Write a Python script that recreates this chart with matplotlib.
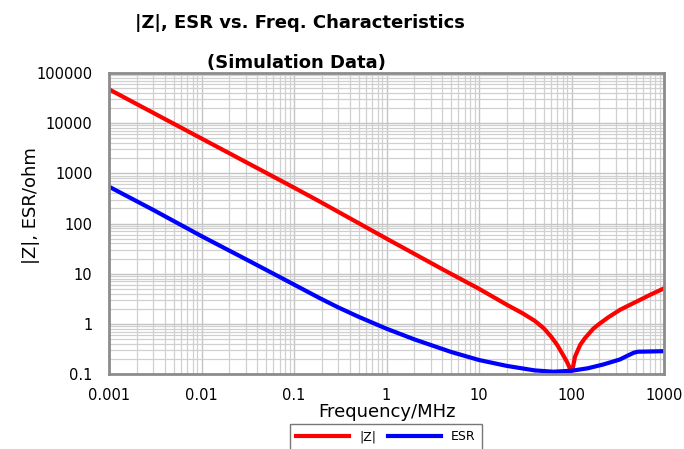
import numpy as np
import matplotlib.pyplot as plt
from matplotlib.ticker import FixedLocator, LogLocator, NullFormatter

# |Z| (MHz, ohm)
freq_z = [0.001, 0.01, 0.1, 0.191, 1, 4.11, 10, 20, 30, 40, 50, 60,
          70, 80, 90, 96, 100, 104, 109, 124, 140, 172, 200, 250, 334,
          430, 550, 700, 1000]
z_vals = [47300, 4950, 519, 272, 50, 12.0, 5.0, 2.4, 1.6, 1.15, 0.82, 0.56,
          0.38, 0.25, 0.17, 0.13, 0.115, 0.14, 0.22, 0.38, 0.52, 0.80, 1.0,
          1.35, 1.9, 2.4, 3.0, 3.75, 5.1]

# ESR
freq_esr = [0.001, 0.003, 0.01, 0.03, 0.0707, 0.191, 0.3, 0.5, 1, 2, 5, 10,
            20, 40, 63.5, 100, 150, 221, 334, 400, 470, 520, 1000]
esr_vals = [542, 187, 56, 19.5, 8.5, 3.23, 2.13, 1.38, 0.80, 0.49, 0.275,
            0.19, 0.145, 0.118, 0.111, 0.116, 0.13, 0.155, 0.195, 0.23,
            0.265, 0.278, 0.285]

x_ticks = [0.001, 0.01, 0.1, 1, 10, 100, 1000]
x_labels = ['0.001', '0.01', '0.1', '1', '10', '100', '1000']
y_ticks = [0.1, 1, 10, 100, 1000, 10000, 100000]
y_labels = ['0.1', '1', '10', '100', '1000', '10000', '100000']

fig = plt.figure(figsize=(6.84, 4.49), dpi=100)
ax = fig.add_axes([109 / 684, 1 - 374 / 449, 555 / 684, 301 / 449])

ax.plot(freq_z, z_vals, color='#ff0000', linewidth=3, label='|Z|')
ax.plot(freq_esr, esr_vals, color='#0000ff', linewidth=3, label='ESR')

ax.set_xscale('log')
ax.set_yscale('log')
ax.set_xlim(0.001, 1000)
ax.set_ylim(0.1, 100000)

ax.xaxis.set_major_locator(FixedLocator(x_ticks))
ax.set_xticklabels(x_labels)
ax.yaxis.set_major_locator(FixedLocator(y_ticks))
ax.set_yticklabels(y_labels)
ax.xaxis.set_minor_locator(LogLocator(base=10, subs=np.arange(2, 10), numticks=20))
ax.yaxis.set_minor_locator(LogLocator(base=10, subs=np.arange(2, 10), numticks=20))
ax.xaxis.set_minor_formatter(NullFormatter())
ax.yaxis.set_minor_formatter(NullFormatter())
ax.tick_params(which='both', length=0, labelsize=10.5)
ax.tick_params(axis='y', pad=12)
ax.tick_params(axis='x', pad=10)

ax.grid(which='major', color='#c4c4c4', linewidth=1.0)
ax.grid(which='minor', color='#d0d0d0', linewidth=0.9)
ax.set_axisbelow(True)
for s in ax.spines.values():
    s.set_color('#8c8c8c')
    s.set_linewidth(2)

ax.set_xlabel('Frequency/MHz', fontsize=13)
ax.xaxis.set_label_coords(0.5, -29 / 301)
ax.set_ylabel('|Z|, ESR/ohm', fontsize=13)
ax.yaxis.set_label_coords(-69 / 555, 1 - 133 / 301)

fig.text(300 / 684, 1 - 23 / 449, '|Z|, ESR vs. Freq. Characteristics',
         ha='center', va='center', fontsize=13, fontweight='bold')
fig.text(296 / 684, 1 - 63 / 449, '(Simulation Data)',
         ha='center', va='center', fontsize=13, fontweight='bold')

leg = fig.legend(loc='upper center', bbox_to_anchor=(386 / 684, 1 - 424 / 449),
                 ncol=2, fontsize=9, frameon=True, fancybox=False,
                 handlelength=4.2, columnspacing=1.0, borderpad=0.5,
                 borderaxespad=0)
leg.get_frame().set_edgecolor('#555555')
leg.get_frame().set_linewidth(1)

fig.savefig('out.png', dpi=100)
